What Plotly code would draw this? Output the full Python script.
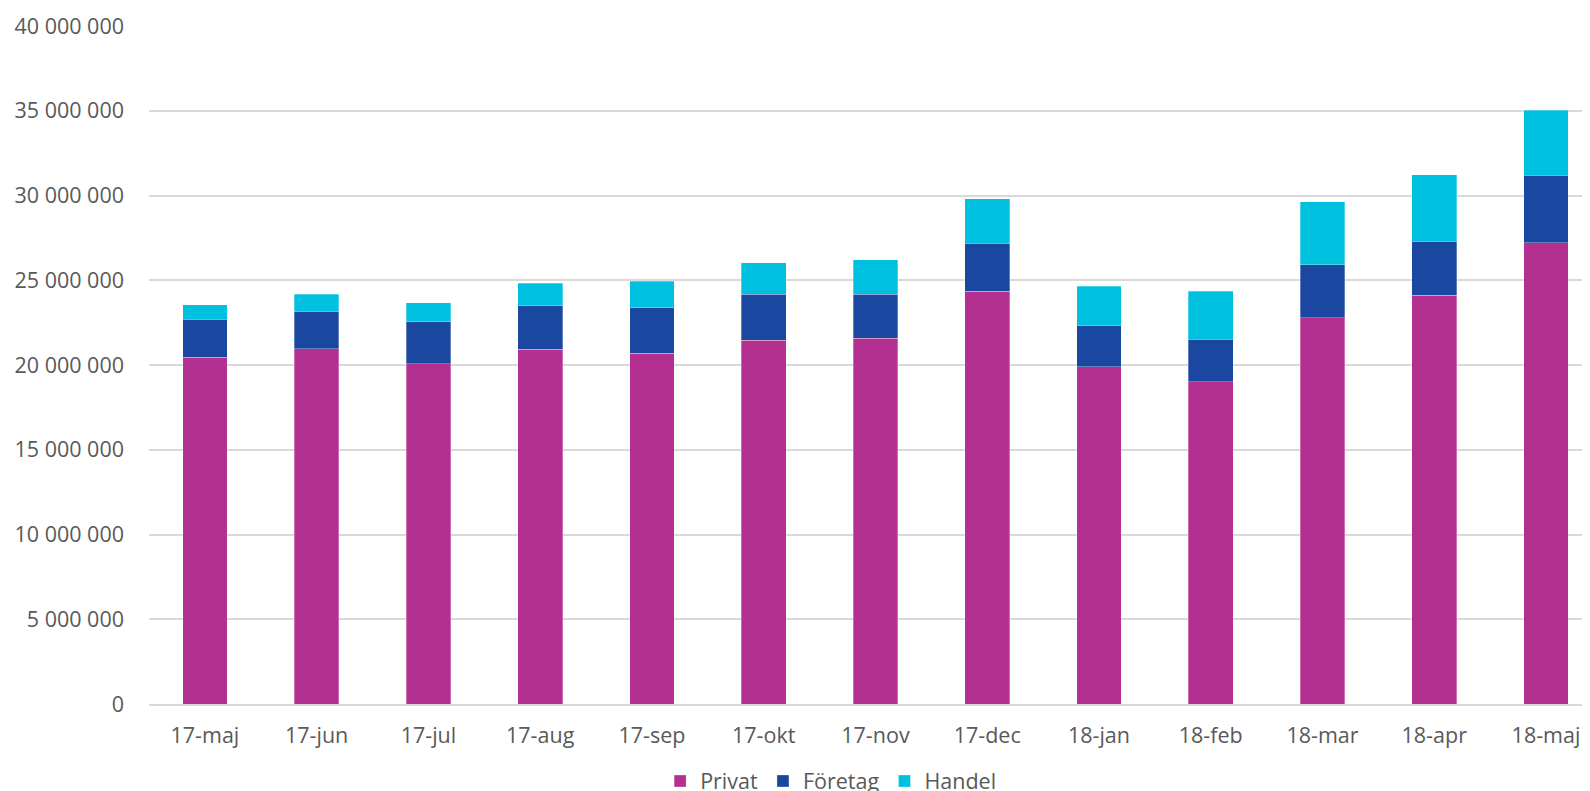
import plotly.graph_objects as go

months = ["17-maj", "17-jun", "17-jul", "17-aug", "17-sep", "17-okt", "17-nov",
          "17-dec", "18-jan", "18-feb", "18-mar", "18-apr", "18-maj"]
privat = [20.45, 20.95, 20.07, 20.93, 20.69, 21.47, 21.59, 24.35, 19.91, 19.01, 22.79, 24.13, 27.21]
foretag_total = [22.69, 23.17, 22.54, 23.51, 23.39, 24.17, 24.17, 27.17, 22.31, 21.53, 25.91, 27.30, 31.19]
handel_total = [23.56, 24.17, 23.67, 24.83, 24.95, 26.03, 26.21, 29.81, 24.65, 24.35, 29.63, 31.22, 35.03]

M = 1_000_000
privat_v = [round(p * M) for p in privat]
foretag_v = [round((f - p) * M) for f, p in zip(foretag_total, privat)]
handel_v = [round((h - f) * M) for h, f in zip(handel_total, foretag_total)]

colors = {"Privat": "#B33090", "Företag": "#1A479F", "Handel": "#00C0DF"}

fig = go.Figure()
for name, vals in [("Privat", privat_v), ("Företag", foretag_v), ("Handel", handel_v)]:
    fig.add_trace(go.Bar(x=months, y=vals, name=name,
                         marker=dict(color=colors[name], line=dict(width=0.5, color="rgba(255,255,255,0.6)"))))

font = "Open Sans, Liberation Sans, sans-serif"
fig.update_layout(
    barmode="stack",
    bargap=0.6,
    width=1576, height=786,
    margin=dict(l=141, r=0, t=18, b=90, autoexpand=False),
    plot_bgcolor="white", paper_bgcolor="white",
    separators=", ",
    font=dict(family=font, size=21.5, color="#595959"),
    legend=dict(orientation="h", x=0.475, xanchor="center", y=-0.1136, yanchor="middle",
                font=dict(size=21.5, color="#595959"), traceorder="normal"),
    xaxis=dict(showgrid=False, showline=True, linecolor="#d9d9d9", linewidth=1.5,
               range=[-0.5, 12.34], ticks="", ticklabelstandoff=11,
               tickfont=dict(size=21.5, color="#595959")),
    yaxis=dict(range=[0, 40 * M], dtick=5 * M, tickformat=",d", showgrid=True,
               gridcolor="#d9d9d9", gridwidth=1.5, zeroline=False, ticks="",
               ticklabelstandoff=24, tickfont=dict(size=21.5, color="#595959")),
)
fig.write_html("out.html")
